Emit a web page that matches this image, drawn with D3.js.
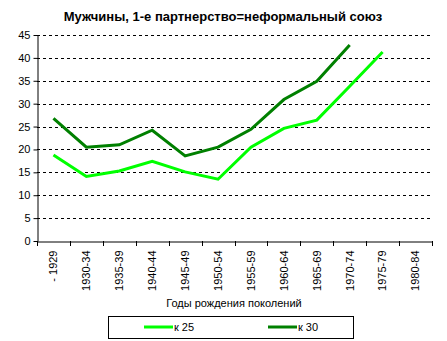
<!DOCTYPE html>
<html><head><meta charset="utf-8">
<script src="https://cdn.jsdelivr.net/npm/d3@7"></script>
<style>body{margin:0;background:#fff}svg{display:block;font-family:"Liberation Sans",Arial,sans-serif}</style>
</head><body>
<script>
const categories = ["- 1929","1930-34","1935-39","1940-44","1945-49","1950-54","1955-59","1960-64","1965-69","1970-74","1975-79","1980-84"];
const seriesK25 = [18.8,14.1,15.3,17.4,15.1,13.5,20.5,24.6,26.4,33.8,41.3,null];
const seriesK30 = [26.8,20.5,21.0,24.2,18.6,20.5,24.4,30.9,34.9,42.8,null,null];
const yTicks = [0,5,10,15,20,25,30,35,40,45];
const seriesNames = ["к 25","к 30"];
const colors = ["#00FF00","#008000"];

const W=447,H=341;
const svg=d3.select("body").append("svg").attr("width",W).attr("height",H);
const x=d3.scaleBand().domain(categories).range([37,432]);
const y=d3.scaleLinear().domain([0,45]).range([241,35]);

svg.append("text").attr("x",223).attr("y",21).attr("text-anchor","middle")
  .attr("font-size",13).attr("font-weight","bold").text("Мужчины, 1-е партнерство=неформальный союз");

// grid
svg.append("g").selectAll("line").data(yTicks.filter(d=>d>0)).join("line")
  .attr("x1",37).attr("x2",432).attr("y1",d=>Math.round(y(d))+0.5).attr("y2",d=>Math.round(y(d))+0.5)
  .attr("stroke","#000").attr("stroke-dasharray","3,3");

// y axis
const ya=svg.append("g").attr("transform","translate(37.5,0)")
  .call(d3.axisLeft(y).tickValues(yTicks).tickSize(4).tickSizeOuter(0).tickPadding(3));
ya.select(".domain").attr("stroke","#000");
ya.selectAll("text").attr("font-size",11).attr("font-family","Liberation Sans, Arial").attr("fill","#000");

// x axis
const xa=svg.append("g").attr("transform","translate(0,241.5)")
  .call(d3.axisBottom(x).tickSize(0).tickSizeOuter(0));
xa.select(".domain").attr("stroke","#000");
xa.selectAll(".tick text").attr("font-size",11).attr("font-family","Liberation Sans, Arial").attr("fill","#000")
  .attr("transform","rotate(-90)").attr("text-anchor","end").attr("dy","0.35em").attr("x",-9).attr("y",0);
svg.append("g").selectAll("line").data(categories.concat(["end"])).join("line")
  .attr("x1",(d,i)=>Math.round(37+i*x.bandwidth())+0.5).attr("x2",(d,i)=>Math.round(37+i*x.bandwidth())+0.5)
  .attr("y1",241).attr("y2",246).attr("stroke","#000");

svg.append("text").attr("x",234).attr("y",307).attr("text-anchor","middle").attr("font-size",11).text("Годы рождения поколений");

const line=d3.line().defined(d=>d!=null).x((d,i)=>x(categories[i])+x.bandwidth()/2).y(d=>y(d));
[seriesK25,seriesK30].forEach((s,k)=>{
  svg.append("path").datum(s).attr("d",line).attr("fill","none").attr("stroke",colors[k]).attr("stroke-width",3);
});

// legend
svg.append("rect").attr("x",108.5).attr("y",316.5).attr("width",245).attr("height",22).attr("fill","#fff").attr("stroke","#000");
const lx=[144,268];
seriesNames.forEach((n,k)=>{
  svg.append("line").attr("x1",lx[k]).attr("x2",lx[k]+29).attr("y1",327).attr("y2",327).attr("stroke",colors[k]).attr("stroke-width",3);
  svg.append("text").attr("x",lx[k]+30).attr("y",331).attr("font-size",11).text(n);
});
</script>
</body></html>
